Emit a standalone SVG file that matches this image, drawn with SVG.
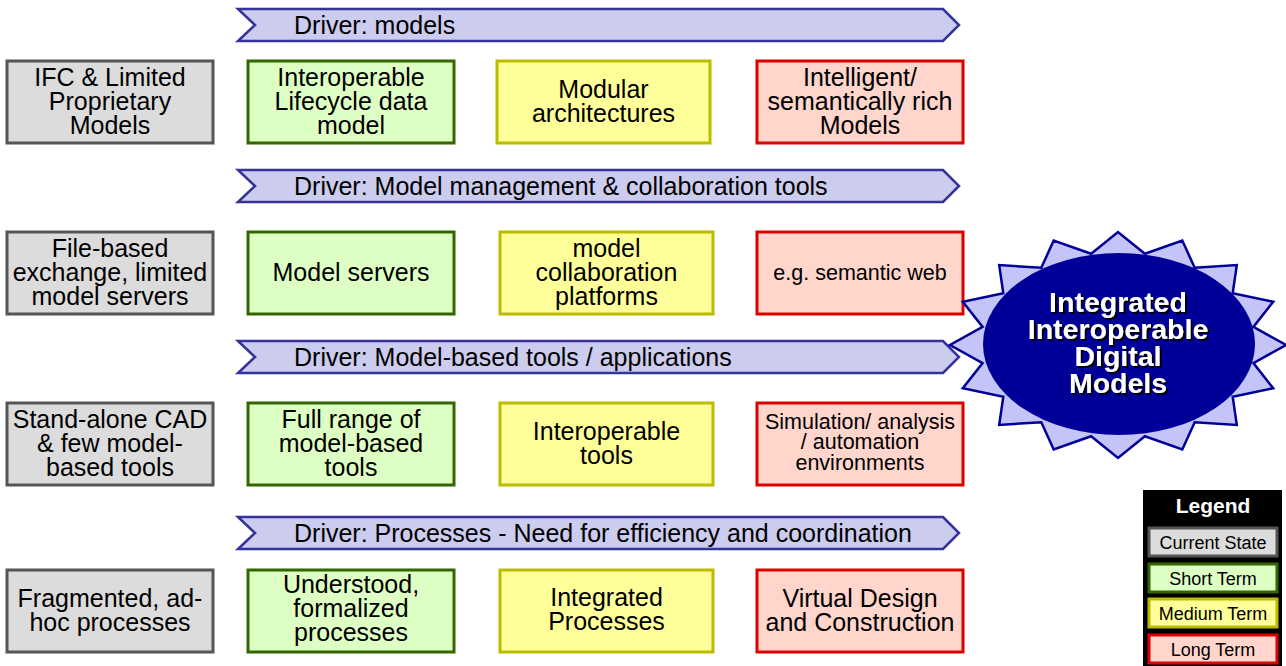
<svg xmlns="http://www.w3.org/2000/svg" width="1286" height="666" viewBox="0 0 1286 666">
<style>
text{font-family:"Liberation Sans",Arial,sans-serif;fill:#000;text-anchor:middle}
.t{font-size:25px}
.s{font-size:21.5px}
.dt{font-size:25px;text-anchor:start}
.cur{fill:#dcdcdc;stroke:#555;stroke-width:3}
.sh{fill:#ddffc4;stroke:#336600;stroke-width:3}
.med{fill:#ffff99;stroke:#bbbb00;stroke-width:3}
.lng{fill:#ffd5cc;stroke:#dd0000;stroke-width:3}
.drv{fill:#ccccee;stroke:#333399;stroke-width:2.5}
.big{font-size:28.5px;font-weight:bold;fill:#fff}
.lt{font-size:18px}
</style>
<defs>
<filter id="shadow" x="-10%" y="-20%" width="130%" height="150%">
<feDropShadow dx="2" dy="2" stdDeviation="0.3" flood-color="#000" flood-opacity="1"/>
</filter>
</defs>
<rect width="1286" height="666" fill="#fff"/>
<g id="drivers">
<g id="driver1"><path class="drv" d="M238,9 L943,9 L959,25 L943,41 L238,41 L255,25 Z"/><text class="dt" x="294" y="34">Driver: models</text></g>
<g id="driver2"><path class="drv" d="M238,170 L943,170 L959,186 L943,202 L238,202 L255,186 Z"/><text class="dt" x="294" y="195">Driver: Model management &amp; collaboration tools</text></g>
<g id="driver3"><path class="drv" d="M238,341 L943,341 L959,357 L943,373 L238,373 L255,357 Z"/><text class="dt" x="294" y="366">Driver: Model-based tools / applications</text></g>
<g id="driver4"><path class="drv" d="M238,517 L943,517 L959,533 L943,549 L238,549 L255,533 Z"/><text class="dt" x="294" y="542">Driver: Processes - Need for efficiency and coordination</text></g>
</g>
<g id="row1">
<g id="cur1"><rect class="cur" x="7" y="61" width="206" height="82"/><text class="t" x="110" y="86">IFC &amp; Limited</text><text class="t" x="110" y="110">Proprietary</text><text class="t" x="110" y="134">Models</text></g>
<g id="short1"><rect class="sh" x="248" y="61" width="206" height="82"/><text class="t" x="351" y="86">Interoperable</text><text class="t" x="351" y="110">Lifecycle data</text><text class="t" x="351" y="134">model</text></g>
<g id="med1"><rect class="med" x="497" y="61" width="213" height="82"/><text class="t" x="603.5" y="98">Modular</text><text class="t" x="603.5" y="122">architectures</text></g>
<g id="long1"><rect class="lng" x="757" y="61" width="206" height="82"/><text class="t" x="860" y="86">Intelligent/</text><text class="t" x="860" y="110">semantically rich</text><text class="t" x="860" y="134">Models</text></g>
</g>
<g id="row2">
<g id="cur2"><rect class="cur" x="7" y="232" width="206" height="82"/><text class="t" x="110" y="257">File-based</text><text class="t" x="110" y="281">exchange, limited</text><text class="t" x="110" y="305">model servers</text></g>
<g id="short2"><rect class="sh" x="248" y="232" width="206" height="82"/><text class="t" x="351" y="281">Model servers</text></g>
<g id="med2"><rect class="med" x="500" y="232" width="213" height="82"/><text class="t" x="606.5" y="257">model</text><text class="t" x="606.5" y="281">collaboration</text><text class="t" x="606.5" y="305">platforms</text></g>
<g id="long2"><rect class="lng" x="757" y="232" width="206" height="82"/><text class="s" x="860" y="280">e.g. semantic web</text></g>
</g>
<g id="row3">
<g id="cur3"><rect class="cur" x="7" y="403" width="206" height="82"/><text class="t" x="110" y="428">Stand-alone CAD</text><text class="t" x="110" y="452">&amp; few model-</text><text class="t" x="110" y="476">based tools</text></g>
<g id="short3"><rect class="sh" x="248" y="403" width="206" height="82"/><text class="t" x="351" y="428">Full range of</text><text class="t" x="351" y="452">model-based</text><text class="t" x="351" y="476">tools</text></g>
<g id="med3"><rect class="med" x="500" y="403" width="213" height="82"/><text class="t" x="606.5" y="440">Interoperable</text><text class="t" x="606.5" y="464">tools</text></g>
<g id="long3"><rect class="lng" x="757" y="403" width="206" height="82"/><text class="s" x="860" y="429">Simulation/ analysis</text><text class="s" x="860" y="449">/ automation</text><text class="s" x="860" y="470">environments</text></g>
</g>
<g id="row4">
<g id="cur4"><rect class="cur" x="7" y="570" width="206" height="82"/><text class="t" x="110" y="607">Fragmented, ad-</text><text class="t" x="110" y="631">hoc processes</text></g>
<g id="short4"><rect class="sh" x="248" y="570" width="206" height="82"/><text class="t" x="351" y="593">Understood,</text><text class="t" x="351" y="617">formalized</text><text class="t" x="351" y="641">processes</text></g>
<g id="med4"><rect class="med" x="500" y="570" width="213" height="82"/><text class="t" x="606.5" y="606">Integrated</text><text class="t" x="606.5" y="630">Processes</text></g>
<g id="long4"><rect class="lng" x="757" y="570" width="206" height="82"/><text class="t" x="860" y="607">Virtual Design</text><text class="t" x="860" y="631">and Construction</text></g>
</g>
<g id="goal">
<polygon fill="#c4c4f8" stroke="#000099" stroke-width="2.5" stroke-linejoin="miter" points="1286,345 1253.4,326.9 1273.2,301.8 1232.7,293.3 1236.8,265.1 1194.7,267.7 1182.3,240.6 1144.9,253.8 1118,232 1091.1,253.8 1053.7,240.6 1041.3,267.7 999.2,265.1 1003.3,293.3 962.8,301.8 982.6,326.9 950,345 982.6,363.1 962.8,388.2 1003.3,396.7 999.2,424.9 1041.3,422.3 1053.7,449.4 1091.1,436.2 1118,458 1144.9,436.2 1182.3,449.4 1194.7,422.3 1236.8,424.9 1232.7,396.7 1273.2,388.2 1253.4,363.1"/>
<ellipse cx="1119" cy="344" rx="136" ry="91" fill="#000099"/>
<g filter="url(#shadow)">
<text class="big" x="1118" y="312">Integrated</text>
<text class="big" x="1118" y="339">Interoperable</text>
<text class="big" x="1118" y="366">Digital</text>
<text class="big" x="1118" y="393">Models</text>
</g>
</g>
<g id="legend">
<rect x="1143" y="490" width="139" height="176" fill="#000"/>
<text x="1213" y="513" style="font-size:21px;font-weight:bold;fill:#fff">Legend</text>
<g id="leg-current"><rect class="cur" x="1149" y="528" width="128" height="28"/><text class="lt" x="1213" y="548.5">Current State</text></g>
<g id="leg-short"><rect class="sh" x="1149" y="564" width="128" height="28"/><text class="lt" x="1213" y="584.5">Short Term</text></g>
<g id="leg-medium"><rect class="med" x="1149" y="599" width="128" height="28"/><text class="lt" x="1213" y="619.5">Medium Term</text></g>
<g id="leg-long"><rect class="lng" x="1149" y="635" width="128" height="28"/><text class="lt" x="1213" y="655.5">Long Term</text></g>
</g>
</svg>
